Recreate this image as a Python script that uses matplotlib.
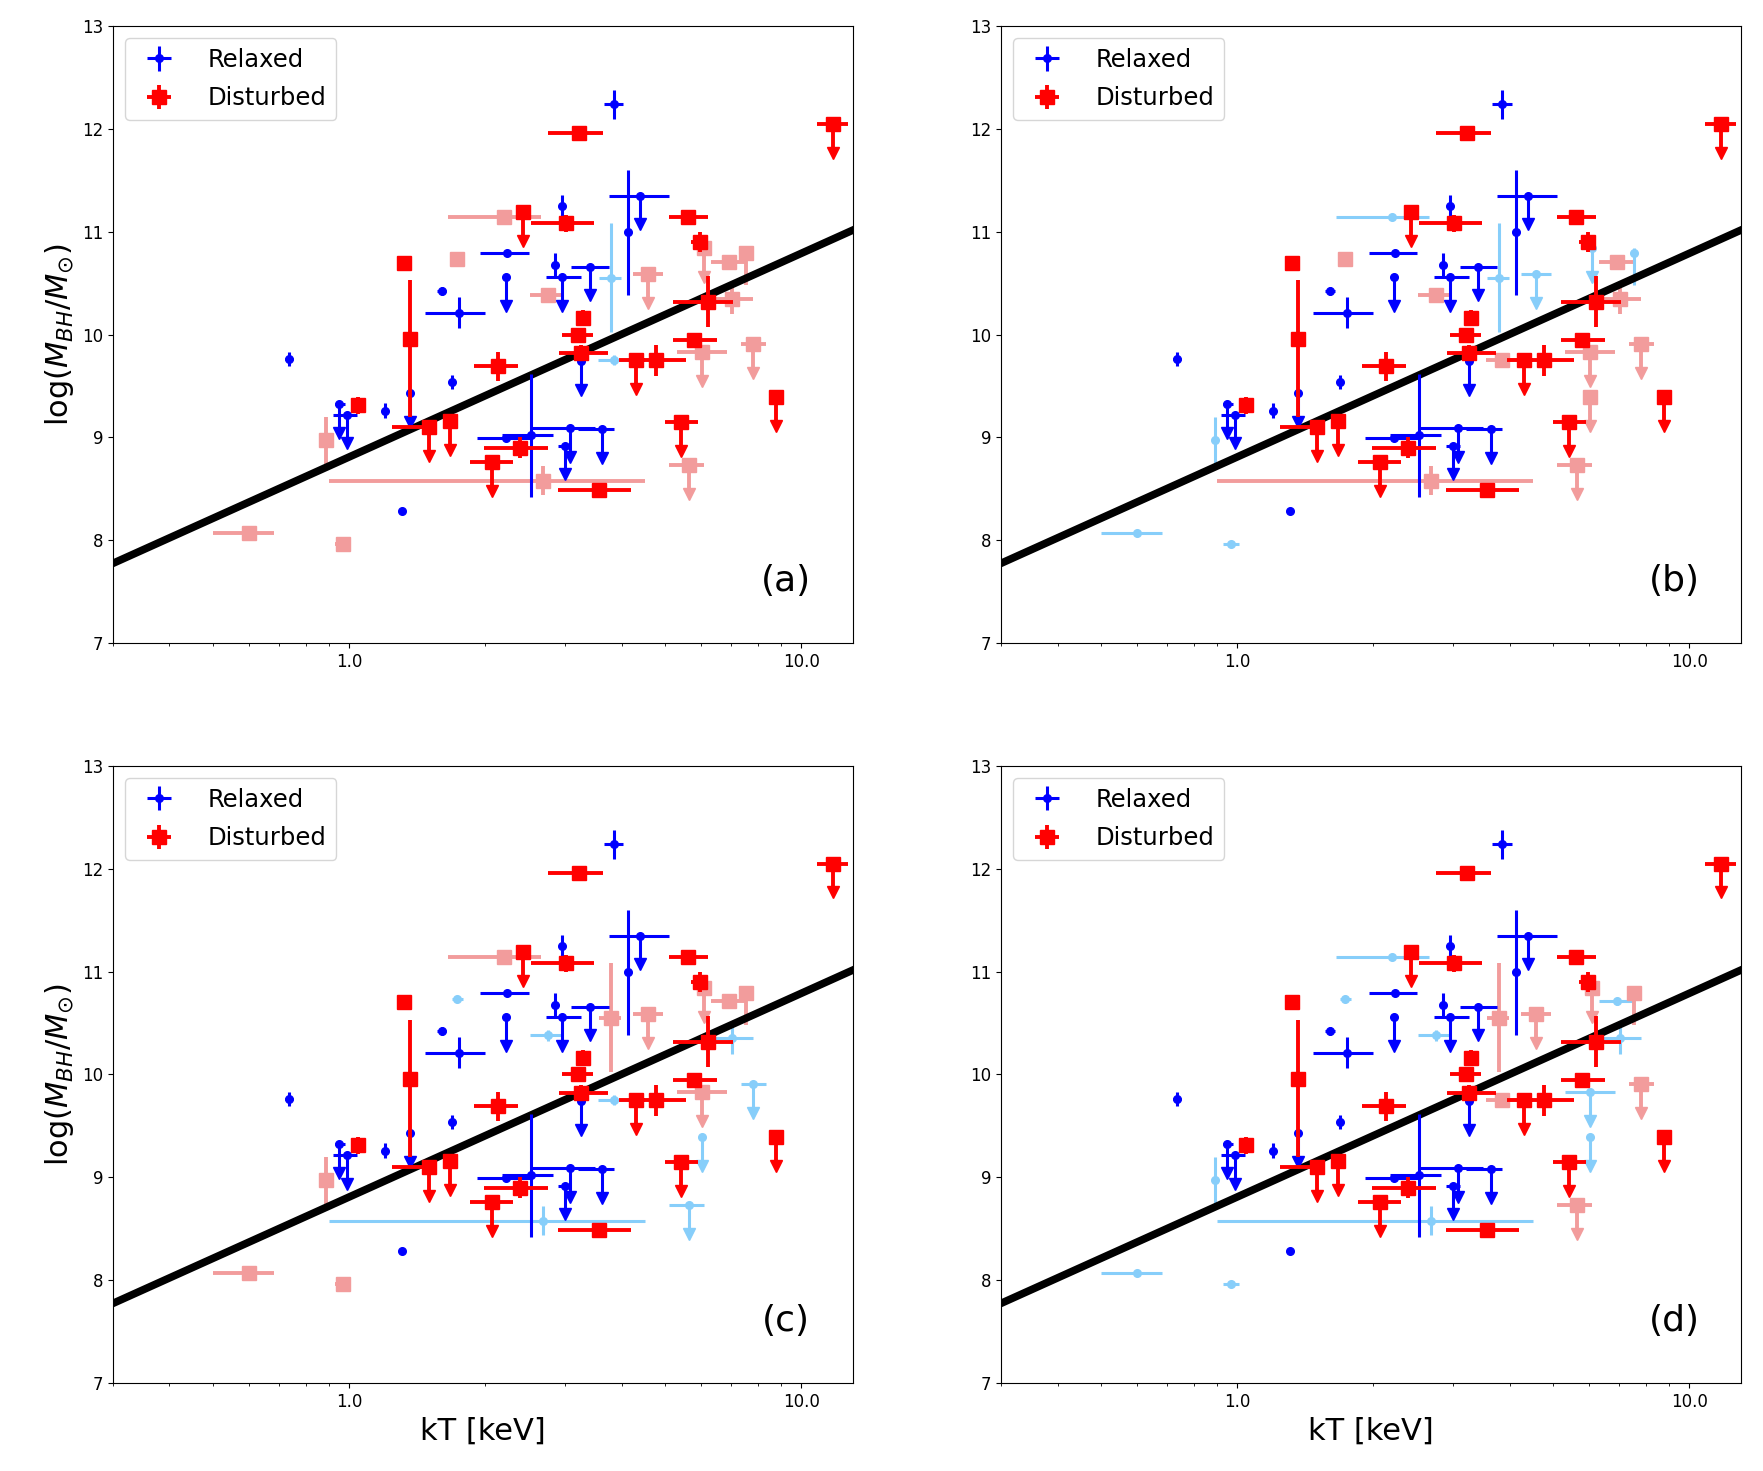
"""
BH mass vs ICM temperature, four classification variants (a)-(d).
Relaxed = blue dots, Disturbed = red squares, faded = ambiguous objects.
"""
import numpy as np
import matplotlib
matplotlib.use("Agg")
import matplotlib.pyplot as plt
from matplotlib.ticker import NullFormatter

# ── Data ──────────────────────────────────────────────────────────────────────
# kT [keV] with x-error bounds, log(M_BH/Msun) with lower/upper errors.
# upper = 1 -> upper limit (arrow down, dm_lo is the arrow length)
kt = [3.84, 2.95, 4.14, 4.40, 2.23, 2.22, 2.85, 2.95, 3.40, 1.60,
      1.75, 0.735, 1.69, 1.20, 0.95, 0.99, 1.36, 1.31, 3.26, 2.52,
      2.22, 3.08, 3.00, 3.63,
      3.22, 11.77, 2.42, 3.01, 5.60, 5.95, 6.20, 1.32, 1.36, 3.28,
      3.20, 3.26, 2.13, 4.31, 4.76, 5.79, 8.77, 5.41, 1.045, 1.50,
      1.67, 2.07, 2.39, 3.57,
      0.60, 0.97, 0.89, 2.68, 1.73, 2.20, 2.75, 3.80, 4.57, 3.85,
      6.10, 6.91, 7.54, 7.03, 6.04, 7.83, 5.64, 6.04]
kt_lo = [3.65, 2.95, 4.14, 3.75, 1.95, 2.22, 2.85, 2.72, 3.10, 1.56,
         1.47, 0.72, 1.69, 1.20, 0.93, 0.92, 1.36, 1.31, 3.26, 2.18,
         1.92, 2.52, 2.90, 3.20,
         2.75, 10.8, 2.42, 2.52, 5.10, 5.70, 5.19, 1.32, 1.36, 3.18,
         2.95, 2.91, 1.89, 3.95, 4.45, 5.19, 8.77, 5.00, 1.045, 1.24,
         1.62, 1.85, 1.99, 2.89,
         0.50, 0.93, 0.89, 0.90, 1.69, 1.65, 2.51, 3.56, 4.23, 3.55,
         6.10, 6.30, 7.54, 6.30, 5.30, 7.35, 5.10, 6.04]
kt_hi = [4.04, 2.95, 4.14, 5.10, 2.50, 2.22, 2.85, 3.25, 3.75, 1.64,
         2.00, 0.75, 1.69, 1.20, 0.98, 1.04, 1.36, 1.31, 3.26, 2.82,
         2.52, 3.50, 3.10, 3.85,
         3.64, 12.7, 2.42, 3.47, 6.20, 6.20, 7.04, 1.32, 1.36, 3.38,
         3.45, 3.73, 2.36, 4.50, 5.55, 6.52, 8.77, 5.90, 1.045, 1.55,
         1.72, 2.30, 2.75, 4.20,
         0.68, 1.01, 0.89, 4.50, 1.78, 2.65, 2.94, 3.99, 4.93, 4.20,
         6.10, 7.50, 7.54, 7.80, 6.85, 8.33, 6.10, 6.04]
logm = [12.24, 11.25, 11.00, 11.35, 10.79, 10.56, 10.68, 10.56, 10.66, 10.42,
        10.21, 9.76, 9.54, 9.26, 9.32, 9.22, 9.43, 8.28, 9.74, 9.02,
        8.99, 9.09, 8.92, 9.08,
        11.96, 12.05, 11.19, 11.08, 11.14, 10.90, 10.32, 10.70, 9.96, 10.16,
        10.00, 9.82, 9.69, 9.75, 9.75, 9.95, 9.39, 9.15, 9.31, 9.10,
        9.16, 8.76, 8.90, 8.49,
        8.07, 7.96, 8.97, 8.58, 10.73, 11.14, 10.38, 10.55, 10.59, 9.75,
        10.84, 10.71, 10.79, 10.35, 9.83, 9.91, 8.73, 9.39]
dm_lo = [0.14, 0.11, 0.62, 0.28, 0.03, 0.28, 0.11, 0.28, 0.28, 0.04,
         0.15, 0.07, 0.07, 0.07, 0.28, 0.28, 0.28, 0.02, 0.28, 0.60,
         0.03, 0.28, 0.28, 0.28,
         0.05, 0.28, 0.28, 0.08, 0.03, 0.10, 0.25, 0.02, 0.76, 0.08,
         0.05, 0.08, 0.14, 0.28, 0.15, 0.03, 0.28, 0.28, 0.08, 0.28,
         0.28, 0.28, 0.10, 0.03,
         0.03, 0.03, 0.23, 0.14, 0.03, 0.03, 0.05, 0.53, 0.28, 0.05,
         0.28, 0.03, 0.31, 0.15, 0.28, 0.28, 0.28, 0.28]
dm_hi = [0.14, 0.11, 0.60, 0.00, 0.03, 0.00, 0.11, 0.00, 0.00, 0.04,
         0.15, 0.07, 0.07, 0.07, 0.00, 0.00, 0.00, 0.02, 0.00, 0.60,
         0.03, 0.00, 0.00, 0.00,
         0.05, 0.00, 0.00, 0.08, 0.03, 0.10, 0.25, 0.02, 0.57, 0.08,
         0.05, 0.08, 0.14, 0.00, 0.15, 0.03, 0.00, 0.00, 0.08, 0.00,
         0.00, 0.00, 0.10, 0.03,
         0.03, 0.03, 0.23, 0.14, 0.03, 0.03, 0.05, 0.53, 0.00, 0.05,
         0.00, 0.03, 0.05, 0.15, 0.00, 0.00, 0.00, 0.00]
upper = [0, 0, 0, 1, 0, 1, 0, 1, 1, 0,
         0, 0, 0, 0, 1, 1, 1, 0, 1, 0,
         0, 1, 1, 1,
         0, 1, 1, 0, 0, 0, 0, 0, 0, 0,
         0, 0, 0, 1, 0, 0, 1, 1, 0, 1,
         1, 1, 0, 0,
         0, 0, 0, 0, 0, 0, 0, 0, 1, 0,
         1, 0, 0, 0, 1, 1, 1, 1]

# Classification per panel: R relaxed, D disturbed, r/d faded, - not shown
base = "R" * 24 + "D" * 24
cls_a = base + "dddddddrdrddddddd-"
cls_b = base + "rrrddrdrrdrdrddddd"
cls_c = base + "dddrrdrddrdddrdrrr"
cls_d = base + "rrrrrrrddddrdrrddr"
PANELS = ["(a)", "(b)", "(c)", "(d)"]

# Best-fit relation: log M = FIT_NORM + FIT_SLOPE * log10(kT)
FIT_NORM, FIT_SLOPE = 8.81, 1.98

STYLES = {
    "r": dict(color="lightskyblue", marker=".", ms=11, lw=2.2, z=2),
    "d": dict(color="#F29C9C",      marker="s", ms=10, lw=2.8, z=2),
    "R": dict(color="blue",         marker=".", ms=11, lw=2.2, z=3),
    "D": dict(color="red",          marker="s", ms=10, lw=2.8, z=4),
}

kt, kt_lo, kt_hi = np.array(kt), np.array(kt_lo), np.array(kt_hi)
logm, dm_lo, dm_hi = np.array(logm), np.array(dm_lo), np.array(dm_hi)
upper = np.array(upper, dtype=bool)


def draw(ax, cls):
    cls = np.array(list(cls))
    for code, st in STYLES.items():
        sel = cls == code
        det = sel & ~upper
        lim = sel & upper
        if det.any():
            ax.errorbar(kt[det], logm[det],
                        xerr=[kt[det] - kt_lo[det], kt_hi[det] - kt[det]],
                        yerr=[dm_lo[det], dm_hi[det]],
                        fmt=st["marker"], color=st["color"], ms=st["ms"],
                        elinewidth=st["lw"], capsize=0, zorder=st["z"])
        if lim.any():
            ax.errorbar(kt[lim], logm[lim],
                        xerr=[kt[lim] - kt_lo[lim], kt_hi[lim] - kt[lim]],
                        fmt=st["marker"], color=st["color"], ms=st["ms"],
                        elinewidth=st["lw"], capsize=0, zorder=st["z"])
            # vertical bar down from the point
            ax.errorbar(kt[lim], logm[lim], yerr=[dm_lo[lim], np.zeros(lim.sum())],
                        fmt="none", ecolor=st["color"], elinewidth=st["lw"],
                        capsize=0, zorder=st["z"])
            # arrow head at the lower end
            ax.plot(kt[lim], logm[lim] - dm_lo[lim], linestyle="none",
                    marker="v", ms=9, color=st["color"], mec=st["color"],
                    zorder=st["z"])


fig = plt.figure(figsize=(17.63, 14.71), dpi=100)
rects = [[0.0641, 0.5629, 0.4197, 0.4194], [0.5678, 0.5629, 0.4197, 0.4194],
         [0.0641, 0.0598, 0.4197, 0.4195], [0.5678, 0.0598, 0.4197, 0.4195]]

for i, (rect, cls, tag) in enumerate(zip(rects, [cls_a, cls_b, cls_c, cls_d], PANELS)):
    ax = fig.add_axes(rect)
    ax.set_xscale("log")
    ax.set_xlim(0.3, 13)
    ax.set_ylim(7, 13)

    draw(ax, cls)

    xs = np.array(ax.get_xlim())
    ax.plot(xs, FIT_NORM + FIT_SLOPE * np.log10(xs), color="black", lw=5.5, zorder=2.5)

    # legend proxies
    hr = ax.errorbar([np.nan], [np.nan], xerr=[0.1], yerr=[0.1], fmt=".",
                     color="blue", ms=11, elinewidth=2.2, label="Relaxed")
    hd = ax.errorbar([np.nan], [np.nan], xerr=[0.1], yerr=[0.1], fmt="s",
                     color="red", ms=10, elinewidth=2.8, label="Disturbed")
    ax.legend(handles=[hr, hd], loc="upper left", fontsize=17.5,
              labelspacing=0.6, handletextpad=1.0)

    ax.set_xticks([1, 10], ["1.0", "10.0"])
    ax.xaxis.set_minor_formatter(NullFormatter())
    ax.set_yticks(range(7, 14))
    ax.tick_params(labelsize=12)

    ax.text(0.91, 0.10, tag, transform=ax.transAxes, fontsize=26,
            ha="center", va="center")

    if i in (0, 2):
        ax.set_ylabel(r"log($M_{BH}/M_{\odot}$)", fontsize=22)
    if i in (2, 3):
        ax.set_xlabel("kT [keV]", fontsize=22)

fig.savefig("out.png", dpi=100)
